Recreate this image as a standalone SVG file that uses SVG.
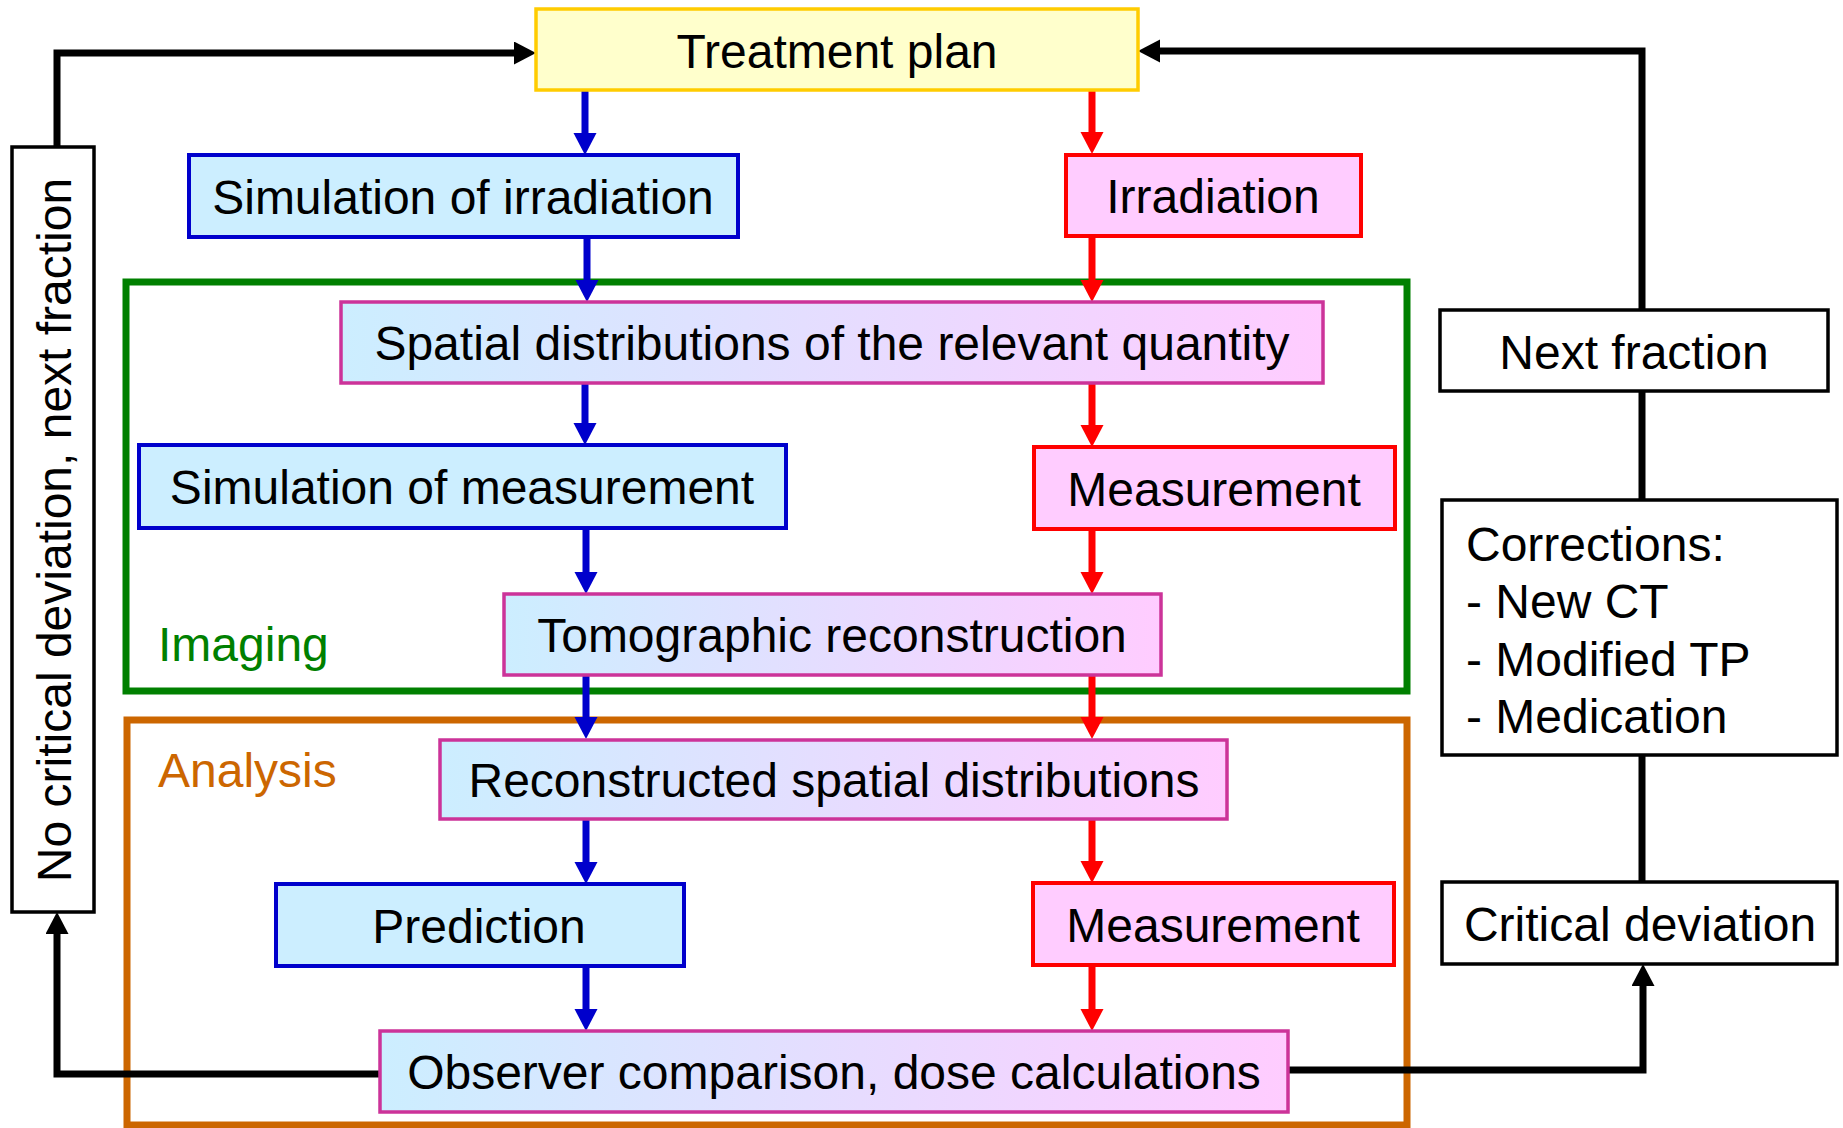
<svg xmlns="http://www.w3.org/2000/svg" width="1843" height="1128" viewBox="0 0 1843 1128">
<style>
text{font-family:"Liberation Sans",Arial,sans-serif;font-size:48px;fill:#000}
.c{text-anchor:middle}
.blue{fill:#CCEEFF;stroke:#0000CC;stroke-width:4}
.red{fill:#FFCCFF;stroke:#FF0000;stroke-width:4}
.grad{fill:url(#g);stroke:#CC3399;stroke-width:3.5}
.blk{fill:#fff;stroke:#000;stroke-width:3.5}
.ab{stroke:#0000CC;stroke-width:7;fill:none;marker-end:url(#mb)}
.ar{stroke:#FF0000;stroke-width:7;fill:none;marker-end:url(#mr)}
.ak{stroke:#000;stroke-width:7;fill:none}
</style>
<defs>
<linearGradient id="g" x1="0" y1="0" x2="1" y2="0">
<stop offset="0" stop-color="#CCEEFF"/>
<stop offset="1" stop-color="#FFCCFF"/>
</linearGradient>
<marker id="mb" markerUnits="userSpaceOnUse" markerWidth="24" markerHeight="24" refX="2" refY="11.5" orient="auto"><path d="M0,0 L22,11.5 L0,23 z" fill="#0000CC"/></marker>
<marker id="mr" markerUnits="userSpaceOnUse" markerWidth="24" markerHeight="24" refX="2" refY="11.5" orient="auto"><path d="M0,0 L22,11.5 L0,23 z" fill="#FF0000"/></marker>
<marker id="mk" markerUnits="userSpaceOnUse" markerWidth="24" markerHeight="24" refX="2" refY="11.5" orient="auto"><path d="M0,0 L22,11.5 L0,23 z" fill="#000"/></marker>
</defs>
<rect width="1843" height="1128" fill="#fff"/>

<g id="group-imaging">
<rect x="126" y="282" width="1281" height="409" fill="none" stroke="#008000" stroke-width="7"/>
<text x="158" y="661" style="fill:#008000">Imaging</text>
</g>
<g id="group-analysis">
<rect x="127" y="720" width="1280" height="405" fill="none" stroke="#CC6600" stroke-width="7"/>
<text x="158" y="787" style="fill:#CC6600">Analysis</text>
</g>

<g id="connectors">
<path class="ab" d="M585,90 V135"/>
<path class="ar" d="M1092,90 V134"/>
<path class="ab" d="M587,237 V282"/>
<path class="ar" d="M1092,236 V282"/>
<path class="ab" d="M585,383 V425"/>
<path class="ar" d="M1092,383 V427"/>
<path class="ab" d="M586,528 V574"/>
<path class="ar" d="M1092,529 V574"/>
<path class="ab" d="M586,675 V719"/>
<path class="ar" d="M1092,675 V719"/>
<path class="ab" d="M586,819 V864"/>
<path class="ar" d="M1092,819 V863"/>
<path class="ab" d="M586,966 V1011"/>
<path class="ar" d="M1092,965 V1011"/>
<path class="ak" d="M57,147 V53 H516" marker-end="url(#mk)"/>
<path class="ak" d="M1642,310 V51 H1158" marker-end="url(#mk)"/>
<path class="ak" d="M1642,391 V500"/>
<path class="ak" d="M1642,755 V882"/>
<path class="ak" d="M1288,1070 H1643 V984" marker-end="url(#mk)"/>
<path class="ak" d="M380,1074 H57 V932" marker-end="url(#mk)"/>
</g>

<g id="treatment-plan">
<rect x="536" y="9" width="602" height="81" fill="#FFFFCC" stroke="#FFCC00" stroke-width="3.5"/>
<text class="c" x="837" y="68">Treatment plan</text>
</g>
<g id="sim-irradiation">
<rect class="blue" x="189" y="155" width="549" height="82"/>
<text class="c" x="463" y="214">Simulation of irradiation</text>
</g>
<g id="irradiation">
<rect class="red" x="1066" y="155" width="295" height="81"/>
<text class="c" x="1213" y="213">Irradiation</text>
</g>
<g id="spatial-distributions">
<rect class="grad" x="341" y="302" width="982" height="81"/>
<text class="c" x="832" y="360">Spatial distributions of the relevant quantity</text>
</g>
<g id="sim-measurement">
<rect class="blue" x="139" y="445" width="647" height="83"/>
<text class="c" x="462" y="504">Simulation of measurement</text>
</g>
<g id="measurement-imaging">
<rect class="red" x="1034" y="447" width="361" height="82"/>
<text class="c" x="1214" y="506">Measurement</text>
</g>
<g id="tomographic">
<rect class="grad" x="504" y="594" width="657" height="81"/>
<text class="c" x="832" y="652">Tomographic reconstruction</text>
</g>
<g id="reconstructed">
<rect class="grad" x="440" y="740" width="787" height="79"/>
<text class="c" x="834" y="797">Reconstructed spatial distributions</text>
</g>
<g id="prediction">
<rect class="blue" x="276" y="884" width="408" height="82"/>
<text class="c" x="479" y="943">Prediction</text>
</g>
<g id="measurement-analysis">
<rect class="red" x="1033" y="883" width="361" height="82"/>
<text class="c" x="1213" y="942">Measurement</text>
</g>
<g id="observer">
<rect class="grad" x="380" y="1031" width="908" height="81"/>
<text class="c" x="834" y="1089">Observer comparison, dose calculations</text>
</g>
<g id="no-critical">
<rect class="blk" x="12" y="147" width="82" height="765"/>
<text class="c" transform="translate(71,530) rotate(-90)">No critical deviation, next fraction</text>
</g>
<g id="next-fraction">
<rect class="blk" x="1440" y="310" width="388" height="81"/>
<text class="c" x="1634" y="369">Next fraction</text>
</g>
<g id="corrections">
<rect class="blk" x="1442" y="500" width="395" height="255"/>
<text x="1466" y="561">Corrections:</text>
<text x="1466" y="618">- New CT</text>
<text x="1466" y="676">- Modified TP</text>
<text x="1466" y="733">- Medication</text>
</g>
<g id="critical-deviation">
<rect class="blk" x="1442" y="882" width="395" height="82"/>
<text class="c" x="1640" y="941">Critical deviation</text>
</g>
</svg>
